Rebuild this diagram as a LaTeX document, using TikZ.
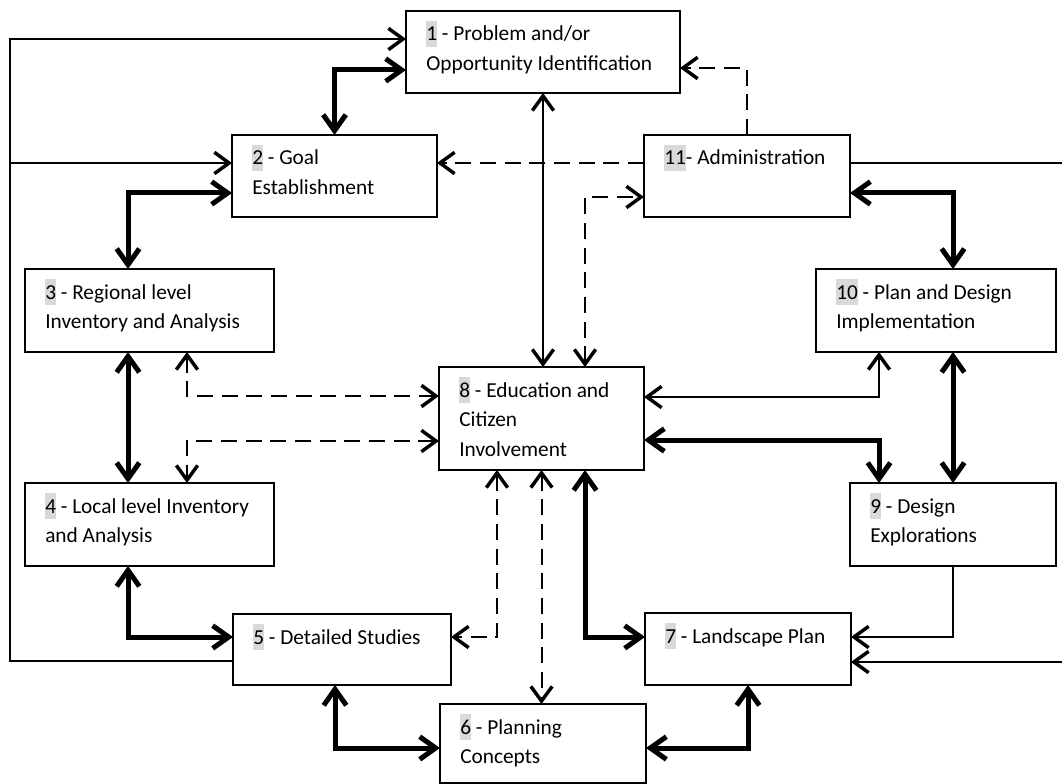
\documentclass[tikz,border=0pt]{standalone}
\usepackage{fontspec}
\setmainfont{Carlito}
\usetikzlibrary{arrows.meta,calc}
\definecolor{hlgray}{HTML}{D9D9D9}
\newcommand\hl[1]{{\setlength{\fboxsep}{0pt}\colorbox{hlgray}{\rule[-0.3em]{0pt}{1.25em}#1}}}
\newcommand\bx[5]{\node[box,minimum width={(#4-#2)*0.75pt},minimum height={(#5-#3)*0.75pt}] (#1) at ({(#2+#4)/2},{(#3+#5)/2}) {};}
\newcommand\tx[4]{\node[txt] (#1) at ($(#2.north west)+(20,30)$) {\parbox[t]{#3}{\raggedright #4}};}
\tikzset{
  box/.style={draw, line width=1pt, inner sep=0pt, outer sep=0pt, fill=white},
  txt/.style={anchor=base west, inner sep=0pt, font=\fontsize{16}{22.3}\selectfont},
  thinl/.style={line width=1.5pt, line join=miter},
  thk/.style={line width=3.75pt, line join=miter},
  dsh/.style={line width=1.5pt, dash pattern=on 12pt off 6.5pt},
  ta/.tip={Straight Barb[length=11pt,width=16pt,line width=2.6pt]},
  tk/.tip={Straight Barb[length=12pt,width=17pt]},
}
\begin{document}
\begin{tikzpicture}[x=0.75pt,y=-0.75pt]
\fill[white] (0,0) rectangle (1062,784);
\useasboundingbox (0,0) rectangle (1062,784);
% boxes
\bx{n1}{406}{11}{680}{93}
\bx{n2}{232}{135}{437}{217}
\bx{n11}{644}{135}{850}{217}
\bx{n3}{25}{269}{274}{352}
\bx{n10}{816}{269}{1056}{352}
\bx{n8}{439}{367}{644}{470}
\bx{n4}{25}{483}{274}{566}
\bx{n9}{850}{483}{1056}{566}
\bx{n5}{233}{614}{451}{685}
\bx{n7}{645}{613}{851}{685}
\bx{n6}{440}{704}{646}{783}
% texts
\tx{t1}{n1}{200pt}{\hl{1} - Problem and/or\\Opportunity Identification}
\tx{t2}{n2}{140pt}{\hl{2} - Goal\\Establishment}
\tx{t11}{n11}{140pt}{\hl{11}- Administration}
\tx{t3}{n3}{175pt}{\hl{3} - Regional level\\Inventory and Analysis}
\tx{t10}{n10}{170pt}{\hl{10} - Plan and Design\\Implementation}
\tx{t8}{n8}{140pt}{\hl{8} - Education and\\Citizen\\Involvement}
\tx{t4}{n4}{175pt}{\hl{4} - Local level Inventory\\and Analysis}
\tx{t9}{n9}{140pt}{\hl{9} - Design\\Explorations}
\tx{t5}{n5}{150pt}{\hl{5} - Detailed Studies}
\tx{t7}{n7}{140pt}{\hl{7} - Landscape Plan}
\tx{t6}{n6}{140pt}{\hl{6} - Planning\\Concepts}
% free ends
\coordinate (oBot) at (10,661);
\coordinate (oTop) at (10,39);
\coordinate (oMid) at (10,163);
\coordinate (rTop) at (1062,163);
\coordinate (rBot) at (1062,662);
% outer feedback
\draw[thinl,-{ta}] ($(n5.north west)+(0,47)$) -- (oBot) -- (oTop) -- (oTop -| n1.west);
\draw[thinl,-{ta}] (oMid) -- (oMid -| n2.west);
% 1 - 2
\draw[thk,{tk}-{tk}] ($(n1.south west)+(0,-23)$) -| (n2.north);
% 1 - 8
\draw[thinl,{ta}-{ta}] (n1.south) -- (n1.south |- n8.north);
% 11 - 1
\draw[dsh,-{ta}] (n11.north) |- ($(n1.south east)+(0,-25)$);
% 11 - 2
\draw[dsh,-{ta}] ($(n11.north west)+(0,28)$) -- ($(n2.north east)+(0,28)$);
% 8 - 11
\draw[dsh,{ta}-{ta}] ($(n8.north west)+(146,0)$) |- ($(n11.north west)+(0,62)$);
% 2 - 3
\draw[thk,{tk}-{tk}] ($(n2.north west)+(0,58)$) -| ($(n3.north west)+(103,0)$);
% 3 - 4
\draw[thk,{tk}-{tk}] ($(n3.south west)+(103,0)$) -- ($(n4.north west)+(103,0)$);
% 3 - 8
\draw[dsh,{ta}-{ta}] ($(n3.south west)+(162,0)$) |- ($(n8.north west)+(0,29)$);
% 8 - 4
\draw[dsh,{ta}-{ta}] ($(n8.north west)+(0,74)$) -| ($(n4.north west)+(162,0)$);
% 8 - 10
\draw[thinl,{ta}-{ta}] ($(n8.north east)+(0,30)$) -| ($(n10.south west)+(63,0)$);
% 8 - 9
\draw[thk,{tk}-{tk}] ($(n8.north east)+(0,73)$) -| ($(n9.north west)+(29,0)$);
% 11 - 10
\draw[thk,{tk}-{tk}] ($(n11.north east)+(0,58)$) -| ($(n10.north west)+(137,0)$);
% 10 - 9
\draw[thk,{tk}-{tk}] ($(n10.south west)+(137,0)$) -- (n9.north);
% 11 - right edge
\draw[thinl] ($(n11.north east)+(0,28)$) -- (rTop);
% 9 - 7
\draw[thinl,-{ta}] (n9.south) |- ($(n7.north east)+(0,24)$);
% right edge - 7
\draw[thinl,-{ta}] (rBot) -- (rBot -| n7.east);
% 4 - 5
\draw[thk,{tk}-{tk}] ($(n4.south west)+(103,0)$) |- ($(n5.north west)+(0,23)$);
% 8 - 5
\draw[dsh,{ta}-{ta}] ($(n8.south west)+(58,0)$) |- ($(n5.north east)+(0,23)$);
% 8 - 6
\draw[dsh,{ta}-{ta}] (n8.south) -- (n8.south |- n6.north);
% 8 - 7
\draw[thk,{tk}-{tk}] ($(n8.south west)+(146,0)$) |- ($(n7.north west)+(0,24)$);
% 5 - 6
\draw[thk,{tk}-{tk}] ($(n5.south west)+(102,0)$) |- ($(n6.north west)+(0,44)$);
% 7 - 6
\draw[thk,{tk}-{tk}] (n7.south) |- ($(n6.north east)+(0,44)$);
\end{tikzpicture}
\end{document}
